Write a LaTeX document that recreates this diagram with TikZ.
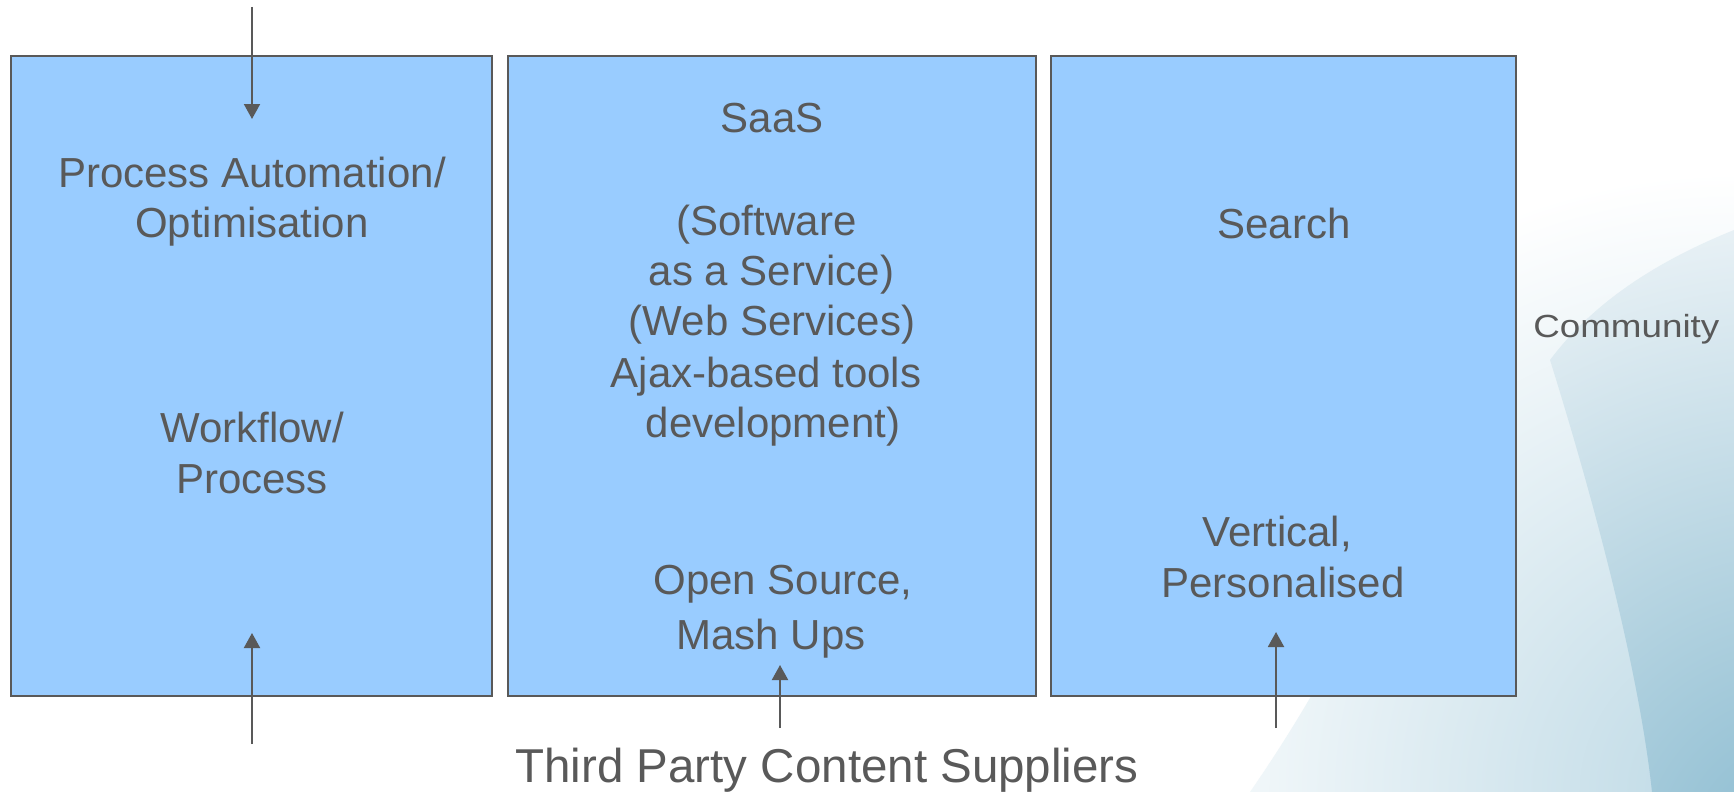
\documentclass[tikz,border=0pt]{standalone}
\usepackage{fontspec}
\setmainfont{Liberation Sans}
\usetikzlibrary{arrows.meta}
\definecolor{boxfill}{HTML}{99CCFF}
\definecolor{ink}{HTML}{595959}
\definecolor{tintA}{HTML}{BDD9E5}
\definecolor{tintB}{HTML}{8ABBD0}
\definecolor{tintC}{HTML}{EAF2F6}
\pgfdeclareradialshading{glowA}{\pgfpoint{0bp}{0bp}}{color(0bp)=(tintA); color(25bp)=(white); color(50bp)=(white)}
\pgfdeclareradialshading{glowB}{\pgfpoint{0bp}{0bp}}{color(0bp)=(tintB); color(25bp)=(tintC); color(50bp)=(tintC)}
\begin{document}
\begin{tikzpicture}[x=1pt,y=-1pt,
  panel/.style={draw=ink, line width=2pt, fill=boxfill, inner sep=0pt, minimum height=640pt},
  txt/.style={text=ink, font=\fontsize{42}{50}\selectfont, anchor=base, inner sep=0pt},
  arr/.style={draw=ink, line width=2pt, -{Triangle[width=16pt,length=15pt]}}]
\useasboundingbox (0,0) rectangle (1734,792);
% background
\fill[white] (0,0) rectangle (1734,792);
\begin{scope}
  \clip (1470,0) .. controls (1600,15) and (1680,35) .. (1734,55) -- (1734,792) -- (1250,792)
    .. controls (1410,560) and (1500,300) .. (1470,0) -- cycle;
  \shade[shading=glowA] (1734,792) circle (620pt);
\end{scope}
\begin{scope}
  \clip (1550,360) .. controls (1600,520) and (1640,680) .. (1652,792) -- (1734,792) -- (1734,230)
    .. controls (1660,260) and (1595,300) .. (1550,360) -- cycle;
  \shade[shading=glowB] (1800,850) circle (640pt);
\end{scope}
% boxes
\node[panel, minimum width=481pt] (box1) at (251.5,376) {};
\node[panel, minimum width=528pt] (box2) at (772,376) {};
\node[panel, minimum width=465pt] (box3) at (1283.5,376) {};
% arrow end points
\coordinate (t1s) at (252,7);
\coordinate (t1e) at (252,119);
\coordinate (b1s) at (252,744);
\coordinate (b1e) at (252,633);
\coordinate (b2s) at (780,728);
\coordinate (b2e) at (780,665);
\coordinate (b3s) at (1276,728);
\coordinate (b3e) at (1276,632);
\draw[arr] (t1s) -- (t1e);
\draw[arr] (b1s) -- (b1e);
\draw[arr] (b2s) -- (b2e);
\draw[arr] (b3s) -- (b3e);
% texts box 1
\node[txt] (p1a) at (252,187) {Process Automation/};
\node[txt] (p1b) at (252,237) {Optimisation};
\node[txt] (p1c) at (252,442) {Workflow/};
\node[txt] (p1d) at (252,493) {Process};
% texts box 2
\node[txt] (s0) at (772,132) {SaaS};
\node[txt] (s1) at (766.5,235) {(Software};
\node[txt] (s2) at (771.5,285) {as a Service)};
\node[txt] (s3) at (772,335) {(Web Services)};
\node[txt] (s4) at (766,387) {Ajax-based tools};
\node[txt] (s5) at (773,437) {development)};
\node[txt] (s6) at (783,594) {Open Source,};
\node[txt] (s7) at (771,649) {Mash Ups};
% texts box 3
\node[txt] (r1) at (1284,238) {Search};
\node[txt] (r2) at (1277,546) {Vertical,};
\node[txt] (r3) at (1283,597) {Personalised};
% outside texts
\node[txt, font=\fontsize{32}{38}\selectfont, xscale=1.15, anchor=base west] (comm) at (1533,337) {Community};
\node[txt, font=\fontsize{47.5}{56}\selectfont] (third) at (827,782) {Third Party Content Suppliers};
\end{tikzpicture}
\end{document}
